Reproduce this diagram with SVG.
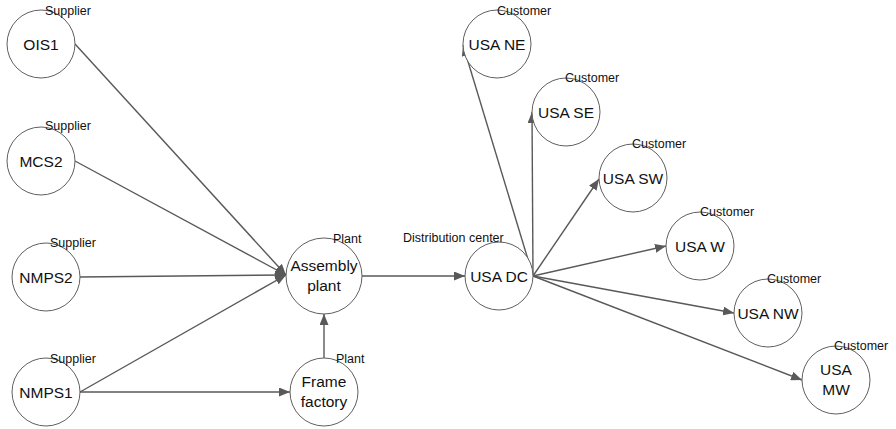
<svg xmlns="http://www.w3.org/2000/svg" width="896" height="429" viewBox="0 0 896 429">
  <style>
    .node { fill: #ffffff; stroke: #5f5f5f; stroke-width: 1; }
    .name { font-family: "Liberation Sans", Arial, sans-serif; font-size: 15.5px; fill: #111111; text-anchor: middle; }
    .role { font-family: "Liberation Sans", Arial, sans-serif; font-size: 12.5px; fill: #111111; }
    .edge { fill: none; stroke: #595959; stroke-width: 1.4; marker-end: url(#arrow); }
  </style>
  <defs>
    <marker id="arrow" markerUnits="userSpaceOnUse" markerWidth="11" markerHeight="9" refX="11" refY="4.5" orient="auto">
      <path d="M0,0 L11,4.5 L0,9 z" fill="#595959"/>
    </marker>
  </defs>
  <rect width="896" height="429" fill="#ffffff"/>

  <g id="connectors">
    <line class="edge" x1="75" y1="44" x2="286" y2="275"/>
    <line class="edge" x1="75" y1="161" x2="286" y2="275"/>
    <line class="edge" x1="80" y1="277" x2="286" y2="275"/>
    <line class="edge" x1="80" y1="392" x2="286" y2="275"/>
    <line class="edge" x1="80" y1="392" x2="290" y2="392"/>
    <line class="edge" x1="324" y1="358" x2="324" y2="314"/>
    <line class="edge" x1="362" y1="276" x2="465" y2="276"/>
    <line class="edge" x1="533" y1="276" x2="463" y2="45"/>
    <line class="edge" x1="533" y1="276" x2="532" y2="112"/>
    <line class="edge" x1="533" y1="276" x2="599" y2="179"/>
    <line class="edge" x1="533" y1="276" x2="666" y2="246"/>
    <line class="edge" x1="533" y1="276" x2="734" y2="313"/>
    <line class="edge" x1="533" y1="276" x2="802" y2="380"/>
  </g>

  <g id="ois1">
    <circle class="node" cx="41" cy="44" r="34"/>
    <text class="name" x="41" y="49.5">OIS1</text>
    <text class="role" x="45" y="15">Supplier</text>
  </g>
  <g id="mcs2">
    <circle class="node" cx="41" cy="161" r="34"/>
    <text class="name" x="41" y="166.5">MCS2</text>
    <text class="role" x="45" y="130">Supplier</text>
  </g>
  <g id="nmps2">
    <circle class="node" cx="46" cy="277" r="34"/>
    <text class="name" x="46" y="282.5">NMPS2</text>
    <text class="role" x="50" y="247">Supplier</text>
  </g>
  <g id="nmps1">
    <circle class="node" cx="46" cy="392" r="34"/>
    <text class="name" x="46" y="397.5">NMPS1</text>
    <text class="role" x="50" y="363">Supplier</text>
  </g>
  <g id="assembly-plant">
    <circle class="node" cx="324" cy="276" r="38"/>
    <text class="name" x="324" y="271">Assembly</text>
    <text class="name" x="324" y="291">plant</text>
    <text class="role" x="333" y="243">Plant</text>
  </g>
  <g id="frame-factory">
    <circle class="node" cx="324" cy="392" r="34"/>
    <text class="name" x="324" y="387">Frame</text>
    <text class="name" x="324" y="407">factory</text>
    <text class="role" x="336" y="363">Plant</text>
  </g>
  <g id="usa-dc">
    <circle class="node" cx="499" cy="276" r="34"/>
    <text class="name" x="499" y="281.5">USA DC</text>
    <text class="role" x="403" y="242">Distribution center</text>
  </g>
  <g id="usa-ne">
    <circle class="node" cx="497" cy="44" r="34"/>
    <text class="name" x="497" y="49.5">USA NE</text>
    <text class="role" x="497" y="15">Customer</text>
  </g>
  <g id="usa-se">
    <circle class="node" cx="566" cy="112" r="34"/>
    <text class="name" x="566" y="117.5">USA SE</text>
    <text class="role" x="565" y="82">Customer</text>
  </g>
  <g id="usa-sw">
    <circle class="node" cx="633" cy="178" r="34"/>
    <text class="name" x="633" y="183.5">USA SW</text>
    <text class="role" x="632" y="148">Customer</text>
  </g>
  <g id="usa-w">
    <circle class="node" cx="700" cy="246" r="34"/>
    <text class="name" x="700" y="251.5">USA W</text>
    <text class="role" x="700" y="216">Customer</text>
  </g>
  <g id="usa-nw">
    <circle class="node" cx="768" cy="313" r="34"/>
    <text class="name" x="768" y="318.5">USA NW</text>
    <text class="role" x="767" y="283">Customer</text>
  </g>
  <g id="usa-mw">
    <circle class="node" cx="836" cy="380" r="34"/>
    <text class="name" x="836" y="375">USA</text>
    <text class="name" x="836" y="395">MW</text>
    <text class="role" x="834" y="350">Customer</text>
  </g>
</svg>
